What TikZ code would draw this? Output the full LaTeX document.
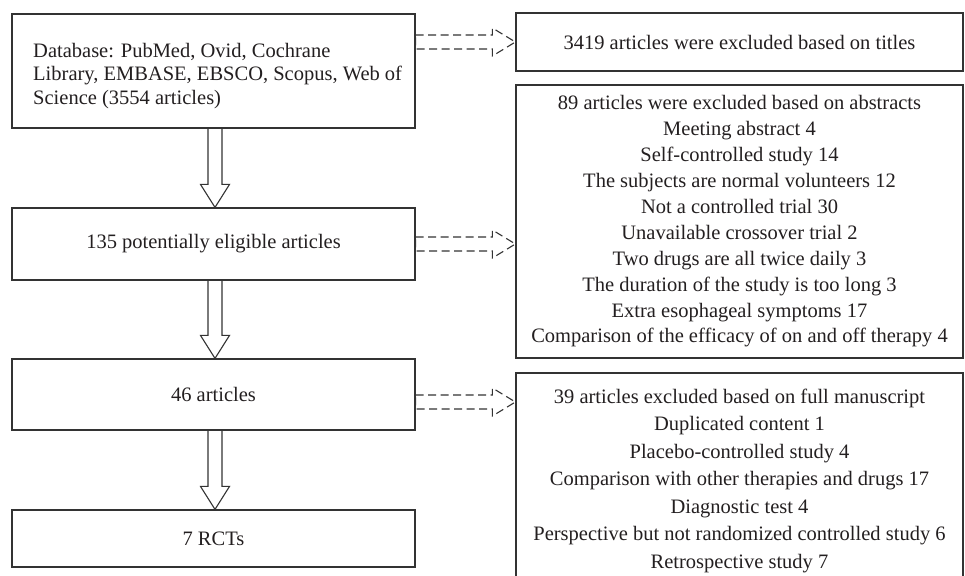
\documentclass[tikz,border=0pt]{standalone}
\usepackage{fontspec}
\setmainfont{Liberation Serif}
\usetikzlibrary{calc}
\definecolor{linec}{HTML}{333333}
\definecolor{textc}{HTML}{231F20}
\newcommand\mydasharrow[2]{%
  \draw[dasharr] let \p1=(#1), \p2=(#2) in
    (\x1,\y1+7pt) -- (\x2-23pt,\y1+7pt) -- (\x2-23pt,\y1+14pt) -- (\x2,\y1)
    -- (\x2-23pt,\y1-14pt) -- (\x2-23pt,\y1-7pt) -- (\x1,\y1-7pt) -- cycle;}
\newcommand\mydownarrow[2]{%
  \draw[downarr] let \p1=([xshift=1.5pt]#1.south), \p2=(#2.north) in
    (\x1-7pt,\y1) -- (\x1-7pt,\y2+23pt) -- (\x1-14.5pt,\y2+23pt) -- (\x1,\y2)
    -- (\x1+14.5pt,\y2+23pt) -- (\x1+7pt,\y2+23pt) -- (\x1+7pt,\y1);}
\begin{document}
\begin{tikzpicture}[x=1pt,y=-1pt,
  boxl/.style={draw=linec, line width=1.2pt, rectangle, minimum width=403pt, inner sep=0pt,
    text=textc, font=\fontsize{20.5}{26}\selectfont},
  boxr/.style={draw=linec, line width=1.2pt, rectangle, minimum width=447pt, inner sep=0pt,
    text=textc, align=center},
  txt/.style={text=textc, inner sep=0pt},
  dasharr/.style={draw=linec, line width=1.1pt, dash pattern=on 8pt off 4.5pt},
  downarr/.style={draw=linec, line width=1.1pt, line join=miter}]
\clip (0,0) rectangle (965,575);
\fill[white] (0,0) rectangle (965,575);
% left boxes
\node[boxl, minimum height=114pt] (b1) at (213.5,71) {};
\node[txt, anchor=west, align=left, font=\fontsize{20.5}{23.5}\selectfont] (t1) at (33,76)
  {Database: PubMed, Ovid, Cochrane\\Library, EMBASE, EBSCO, Scopus, Web of\\Science (3554 articles)};
\node[boxl, minimum height=72pt] (b2) at (213.5,244) {135 potentially eligible articles};
\node[boxl, minimum height=71pt] (b3) at (213.5,394.5) {46 articles};
\node[boxl, minimum height=57pt] (b4) at (213.5,538.5) {7 RCTs};
% right boxes
\node[boxr, minimum height=58pt, font=\fontsize{20.5}{26}\selectfont] (A) at (739.5,42)
  {3419 articles were excluded based on titles};
\node[boxr, minimum height=273pt, font=\fontsize{20.5}{25.9}\selectfont] (B) at (739.5,221.5)
  {89 articles were excluded based on abstracts\\
   Meeting abstract 4\\
   Self-controlled study 14\\
   The subjects are normal volunteers 12\\
   Not a controlled trial 30\\
   Unavailable crossover trial 2\\
   Two drugs are all twice daily 3\\
   The duration of the study is too long 3\\
   Extra esophageal symptoms 17\\
   Comparison of the efficacy of on and off therapy 4};
\node[boxr, minimum height=227pt] (C) at (739.5,486.5) {};
\node[txt, align=center, font=\fontsize{20.5}{27.5}\selectfont] (tC) at (739.5,480.5)
  {39 articles excluded based on full manuscript\\
   Duplicated content 1\\
   Placebo-controlled study 4\\
   Comparison with other therapies and drugs 17\\
   Diagnostic test 4\\
   Perspective but not randomized controlled study 6\\
   Retrospective study 7};
% down arrows
\mydownarrow{b1}{b2}
\mydownarrow{b2}{b3}
\mydownarrow{b3}{b4}
% dashed arrows
\coordinate (s1) at (b1.east |- A.west);
\coordinate (s2) at (b2.east);
\coordinate (s3) at ([yshift=-7.5pt]b3.east);
\coordinate (e2) at (s2 -| B.west);
\coordinate (e3) at (s3 -| C.west);
\mydasharrow{s1}{A.west}
\mydasharrow{s2}{e2}
\mydasharrow{s3}{e3}
\end{tikzpicture}
\end{document}
